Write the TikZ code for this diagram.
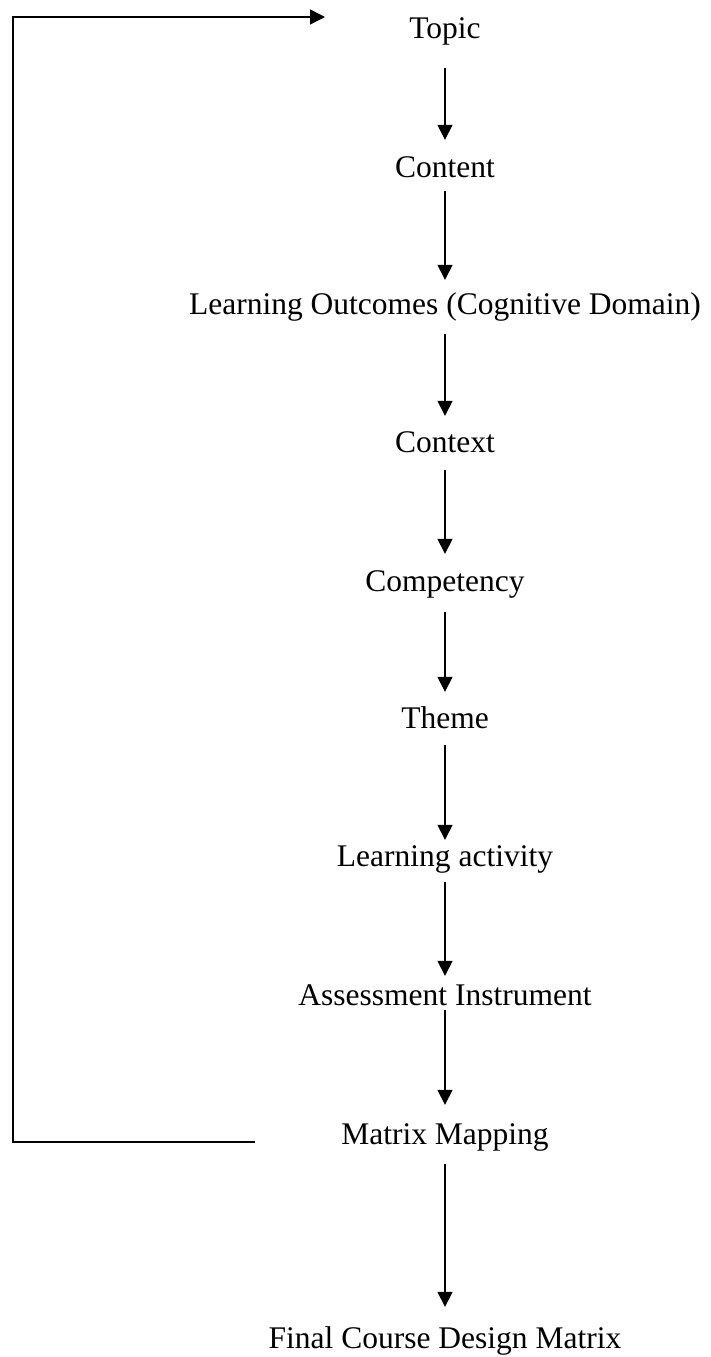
\documentclass[tikz,border=0pt]{standalone}
\usepackage{fontspec}
\setmainfont{Liberation Serif}
\usetikzlibrary{arrows.meta}
\begin{document}
\begin{tikzpicture}[x=1pt,y=-1pt,
  stage/.style={inner sep=0pt, anchor=base, text height=22pt, text depth=0pt,
    font=\fontsize{31.5}{38}\selectfont},
  tip/.style={-{Triangle[length=15pt,width=15pt]}},
  flow/.style={line width=1.5pt, tip},
  feedback/.style={line width=1.5pt, line join=miter, tip}]
\useasboundingbox (0,0) rectangle (710,1357);

% stages of the design process (positions are baselines)
\node[stage] (topic)   at (445,38)   {Topic};
\node[stage] (content) at (445,177)  {Content};
\node[stage] (lo)      at (445,314)  {Learning Outcomes (Cognitive Domain)};
\node[stage] (context) at (445,452)  {Context};
\node[stage] (comp)    at (445,591)  {Competency};
\node[stage] (theme)   at (445,728)  {Theme};
\node[stage] (act)     at (445,866)  {Learning activity};
\node[stage] (assess)  at (445,1005) {Assessment Instrument};
\node[stage] (matrix)  at (445,1144) {Matrix Mapping};
\node[stage] (final)   at (445,1348) {Final Course Design Matrix};

% downward flow
\draw[flow, shorten <=30pt, shorten >=15pt] (topic)   -- (content);
\draw[flow, shorten <=14pt, shorten >=12pt] (content) -- (lo);
\draw[flow, shorten <=20pt, shorten >=14pt] (lo)      -- (context);
\draw[flow, shorten <=18pt, shorten >=15pt] (context) -- (comp);
\draw[flow, shorten <=21pt, shorten >=14pt] (comp)    -- (theme);
\draw[flow, shorten <=17pt, shorten >=4pt]  (theme)   -- (act);
\draw[flow, shorten <=16pt, shorten >=7pt]  (act)     -- (assess);
\draw[flow, shorten <=5pt,  shorten >=17pt] (assess)  -- (matrix);
\draw[flow, shorten <=20pt, shorten >=19pt] (matrix)  -- (final);

% feedback loop from the matrix back to the topic
\coordinate (fbstart) at (255,1142);
\coordinate (fbbl)    at (13,1142);
\coordinate (fbtl)    at (13,17);
\coordinate (fbend)   at (325,17);
\draw[feedback] (fbstart) -- (fbbl) -- (fbtl) -- (fbend);
\end{tikzpicture}
\end{document}
